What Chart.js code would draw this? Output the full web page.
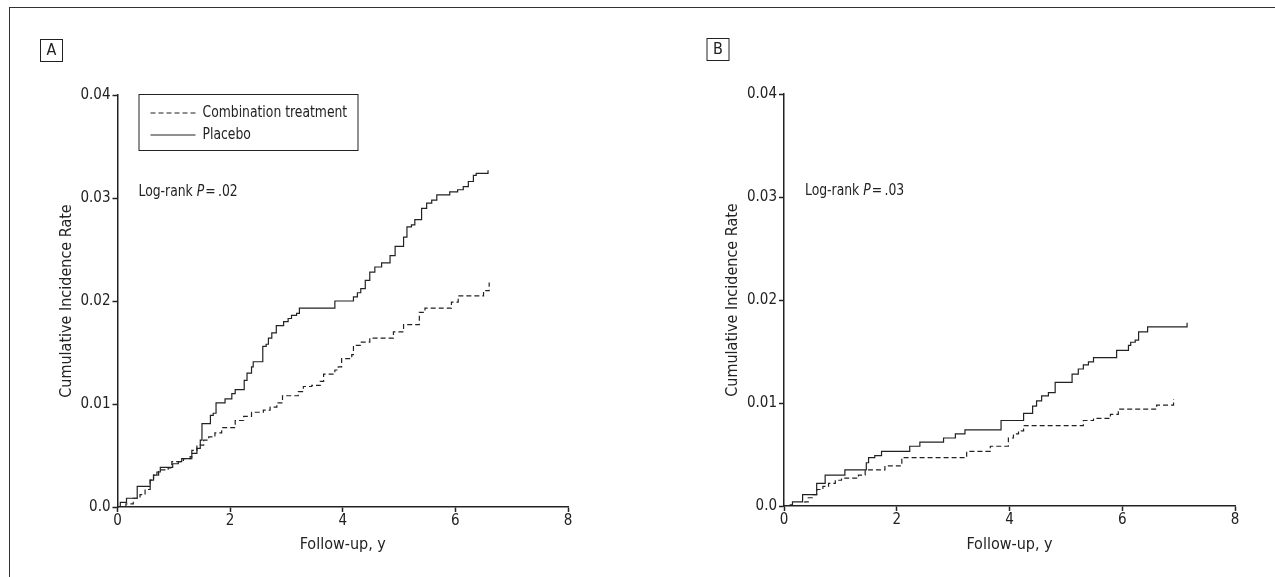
<!DOCTYPE html>
<html>
<head>
<meta charset="utf-8">
<title>Cumulative incidence</title>
<script src="https://cdn.jsdelivr.net/npm/chart.js@4.4.0/dist/chart.umd.min.js"></script>
<style>
  html, body { margin: 0; padding: 0; background: #fff; }
  body { width: 1275px; height: 577px; position: relative; overflow: hidden; }
  #frame { position: absolute; left: 9px; top: 7px; right: -5px; bottom: -5px;
           border-top: 1.5px solid #333; border-left: 1.5px solid #333; }
  .panel { position: absolute; top: 0; height: 577px; }
  #panelA { left: 0; width: 640px; }
  #panelB { left: 640px; width: 635px; }
</style>
</head>
<body>
<div id="frame"></div>
<div class="panel" id="panelA"><canvas id="chartA"></canvas></div>
<div class="panel" id="panelB"><canvas id="chartB"></canvas></div>
<script>
// Cumulative incidence (follow-up in years)
const seriesNames = ['Combination treatment', 'Placebo'];

const xTickValues = [0, 2, 4, 6, 8];
const xTickLabels = ['0', '2', '4', '6', '8'];
const yTickValues = [0, 0.01, 0.02, 0.03, 0.04];
const yTickLabels = ['0.0', '0.01', '0.02', '0.03', '0.04'];

// Panel A
const comboAX = [0, 0.15, 0.28, 0.40, 0.49, 0.58, 0.64, 0.73, 0.90, 0.965, 1.17, 1.29, 1.32, 1.41, 1.53, 1.62, 1.73, 1.85,
  2.09, 2.24, 2.38, 2.59, 2.71, 2.83, 2.93, 3.21, 3.30, 3.45, 3.60, 3.66, 3.86, 3.92, 3.98, 4.16, 4.19, 4.31, 4.48,
  4.90, 5.08, 5.36, 5.46, 5.93, 6.05, 6.50, 6.60];
const comboAY = [0, 0.0003, 0.00085, 0.0012, 0.0017, 0.0026, 0.0031, 0.0036, 0.0038, 0.0044, 0.0047, 0.0049, 0.0055,
  0.0060, 0.0065, 0.0068, 0.0072, 0.0077, 0.0084, 0.0088, 0.0092, 0.0094, 0.0097, 0.0101, 0.0108, 0.0112, 0.0117,
  0.0118, 0.0122, 0.0129, 0.0133, 0.0136, 0.0144, 0.0148, 0.0157, 0.0160, 0.0164, 0.0170, 0.0177, 0.0189, 0.0193,
  0.0199, 0.0205, 0.0210, 0.0218];

const placeboAX = [0, 0.05, 0.16, 0.35, 0.58, 0.64, 0.70, 0.76, 0.98, 1.08, 1.14, 1.32, 1.41, 1.47, 1.50, 1.65, 1.70,
  1.75, 1.91, 2.03, 2.09, 2.25, 2.30, 2.38, 2.41, 2.58, 2.64, 2.68, 2.74, 2.82, 2.95, 3.03, 3.09, 3.18, 3.23, 3.86,
  4.19, 4.26, 4.32, 4.40, 4.48, 4.57, 4.69, 4.84, 4.93, 5.08, 5.14, 5.22, 5.28, 5.40, 5.49, 5.58, 5.67, 5.90, 6.04,
  6.14, 6.23, 6.32, 6.37, 6.58];
const placeboAY = [0, 0.00045, 0.00085, 0.0020, 0.0026, 0.0031, 0.0034, 0.00385, 0.0042, 0.0044, 0.0047, 0.0052,
  0.0057, 0.0065, 0.0081, 0.0089, 0.0091, 0.0101, 0.0105, 0.0110, 0.0114, 0.0123, 0.0130, 0.0136, 0.0141, 0.0156,
  0.0158, 0.0164, 0.0169, 0.0176, 0.0180, 0.0183, 0.0186, 0.0188, 0.0193, 0.0200, 0.0204, 0.0208, 0.0212, 0.0220,
  0.0228, 0.0233, 0.0237, 0.0244, 0.0253, 0.0262, 0.0272, 0.0274, 0.0279, 0.0290, 0.0295, 0.0298, 0.0303, 0.0306,
  0.0308, 0.0311, 0.0316, 0.0322, 0.0324, 0.0327];

// Panel B
const comboBX = [0, 0.37, 0.43, 0.52, 0.58, 0.69, 0.79, 0.91, 1.02, 1.32, 1.44, 1.79, 2.09, 3.24, 3.66, 3.98, 4.07,
  4.16, 4.25, 5.31, 5.49, 5.79, 5.93, 6.61, 6.91];
const comboBY = [0, 0.0004, 0.0008, 0.0011, 0.0016, 0.0019, 0.0022, 0.0025, 0.0027, 0.0030, 0.0035, 0.0039, 0.0047,
  0.0053, 0.0058, 0.0066, 0.0070, 0.0073, 0.0078, 0.0083, 0.0085, 0.0089, 0.0094, 0.0098, 0.0104];

const placeboBX = [0, 0.11, 0.15, 0.33, 0.58, 0.73, 1.08, 1.46, 1.50, 1.61, 1.73, 2.23, 2.41, 2.83, 3.04, 3.21, 3.85,
  4.25, 4.41, 4.48, 4.57, 4.69, 4.81, 5.11, 5.22, 5.31, 5.40, 5.49, 5.90, 6.11, 6.15, 6.23, 6.29, 6.45, 7.15];
const placeboBY = [0, 0.0001, 0.0004, 0.0011, 0.0022, 0.0030, 0.0035, 0.0042, 0.0047, 0.0049, 0.0053, 0.0058, 0.0062,
  0.0066, 0.0070, 0.0074, 0.0083, 0.0090, 0.0097, 0.0102, 0.0107, 0.0110, 0.0120, 0.0128, 0.0133, 0.0137, 0.0140,
  0.0144, 0.0151, 0.0156, 0.0159, 0.0161, 0.0169, 0.0174, 0.0178];

const INK = '#222';
const FONT = "'Liberation Sans Narrow', 'Arial Narrow', 'DejaVu Sans Condensed', sans-serif";
const DASH = [5, 3];
const SQUEEZE = 0.86; // the print face is narrower than what we have installed

function toPoints(xs, ys) {
  return xs.map((x, i) => ({ x: x, y: ys[i] }));
}

// fillText squeezed horizontally, returns drawn width
function narrowText(ctx, text, x, y, font) {
  ctx.font = font;
  const w = ctx.measureText(text).width * SQUEEZE;
  ctx.save();
  ctx.translate(x, y);
  ctx.scale(SQUEEZE, 1);
  ctx.fillText(text, 0, 0);
  ctx.restore();
  return w;
}

// draws panel letter, log-rank note and (optionally) the legend box
const panelDecor = {
  id: 'panelDecor',
  afterDraw(chart, args, opts) {
    const ctx = chart.ctx;
    const area = chart.chartArea;
    ctx.save();
    ctx.fillStyle = INK;
    ctx.strokeStyle = INK;

    // panel letter in a small box
    const bx = area.left - 77.5, by = area.top - 56;
    ctx.lineWidth = 1;
    ctx.strokeRect(bx + 0.5, by + 0.5, 22, 22);
    ctx.font = '16px ' + FONT;
    ctx.textAlign = 'center';
    ctx.textBaseline = 'middle';
    ctx.fillText(opts.letter, bx + 11.5, by + 12);

    // log-rank note
    ctx.textAlign = 'left';
    ctx.textBaseline = 'alphabetic';
    let tx = area.left + 21;
    const ty = area.top + 101;
    tx += narrowText(ctx, 'Log-rank ', tx, ty, '16px ' + FONT);
    tx += narrowText(ctx, 'P', tx, ty, 'italic 16px ' + FONT) + 1;
    narrowText(ctx, '=\u2009' + opts.pValue, tx, ty, '16px ' + FONT);

    if (opts.legend) {
      const lx = area.left + 21, ly = area.top - 1;
      ctx.lineWidth = 1;
      ctx.strokeRect(lx + 0.5, ly + 0.5, 219, 56);
      chart.data.datasets.forEach((ds, i) => {
        const ry = ly + 19 + i * 22;
        ctx.beginPath();
        ctx.lineWidth = 1.2;
        ctx.setLineDash(ds.borderDash || []);
        ctx.moveTo(lx + 12, ry);
        ctx.lineTo(lx + 57, ry);
        ctx.stroke();
        ctx.setLineDash([]);
        ctx.textBaseline = 'middle';
        narrowText(ctx, ds.label, lx + 64, ry, '16px ' + FONT);
      });
    }
    ctx.restore();
  }
};

function makeChart(canvasId, combo, placebo, decor, pad, axisW, axisH) {
  const ctx = document.getElementById(canvasId).getContext('2d');
  return new Chart(ctx, {
    type: 'line',
    data: {
      datasets: [
        {
          label: seriesNames[0],
          data: combo,
          borderColor: INK,
          borderWidth: 1.2,
          borderDash: DASH,
          stepped: true,
          pointRadius: 0,
          fill: false
        },
        {
          label: seriesNames[1],
          data: placebo,
          borderColor: INK,
          borderWidth: 1.2,
          stepped: true,
          pointRadius: 0,
          fill: false
        }
      ]
    },
    options: {
      responsive: true,
      maintainAspectRatio: false,
      animation: false,
      layout: { padding: pad },
      plugins: {
        legend: { display: false },
        tooltip: { enabled: false },
        panelDecor: decor
      },
      scales: {
        x: {
          type: 'linear',
          min: 0,
          max: 8,
          afterBuildTicks: s => { s.ticks = xTickValues.map(v => ({ value: v })); },
          afterFit: s => { s.height = axisH; },
          grid: { drawOnChartArea: false, drawTicks: true, tickLength: 5, tickWidth: 1.5, tickColor: INK },
          border: { display: true, color: INK, width: 1.5 },
          ticks: {
            color: INK,
            padding: 0,
            font: { family: FONT, size: 15 },
            callback: (v, i) => xTickLabels[i]
          },
          title: {
            display: true,
            text: 'Follow-up, y',
            color: INK,
            font: { family: FONT, size: 16 },
            padding: { top: 23, bottom: 23 }
          }
        },
        y: {
          type: 'linear',
          min: 0,
          max: 0.04,
          afterBuildTicks: s => { s.ticks = yTickValues.map(v => ({ value: v })); },
          afterFit: s => { s.width = axisW; },
          grid: { drawOnChartArea: false, drawTicks: true, tickLength: 5, tickWidth: 1.5, tickColor: INK },
          border: { display: true, color: INK, width: 1.5 },
          ticks: {
            color: INK,
            padding: 2,
            font: { family: FONT, size: 15 },
            callback: (v, i) => yTickLabels[i]
          },
          title: {
            display: true,
            text: 'Cumulative Incidence Rate',
            color: INK,
            font: { family: FONT, size: 16 },
            padding: { top: 37, bottom: 37 }
          }
        }
      }
    },
    plugins: [panelDecor]
  });
}

makeChart('chartA', toPoints(comboAX, comboAY), toPoints(placeboAX, placeboAY),
  { letter: 'A', pValue: '.02', legend: true },
  { left: 20, top: 95, right: 72, bottom: 0 }, 97.5, 70);

makeChart('chartB', toPoints(comboBX, comboBY), toPoints(placeboBX, placeboBY),
  { letter: 'B', pValue: '.03', legend: false },
  { left: 46.5, top: 94, right: 40, bottom: 0 }, 97.5, 71);
</script>
</body>
</html>
